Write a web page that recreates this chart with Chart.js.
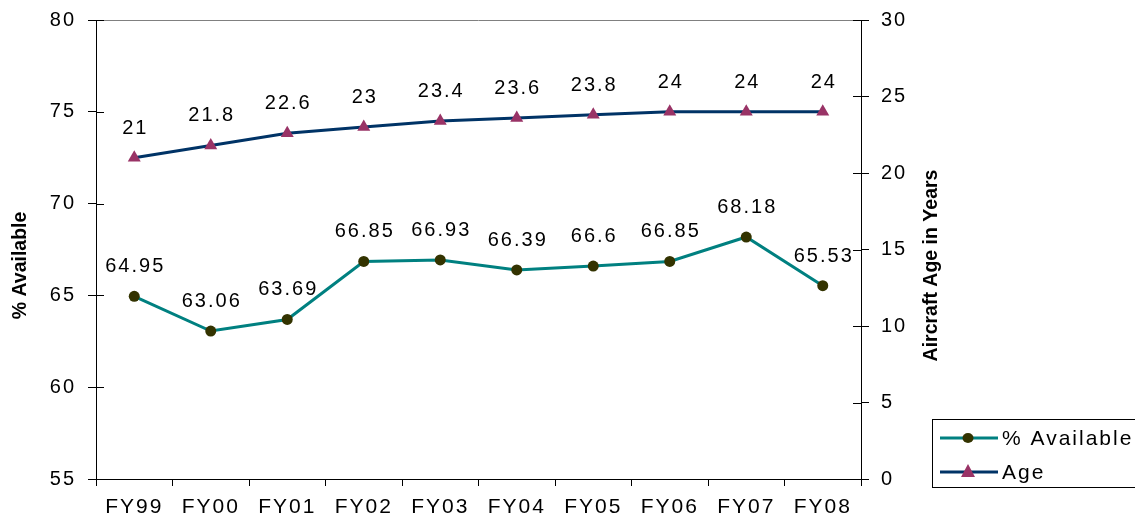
<!DOCTYPE html>
<html>
<head>
<meta charset="utf-8">
<script src="https://cdn.jsdelivr.net/npm/chart.js@4.4.1/dist/chart.umd.min.js"></script>
<style>
  html, body { margin: 0; padding: 0; background: #fff; }
  #wrap { width: 1135px; height: 522px; }
</style>
</head>
<body>
<div id="wrap"><canvas id="myChart" width="1135" height="522"></canvas></div>
<script>
// data
var years = ['FY99', 'FY00', 'FY01', 'FY02', 'FY03', 'FY04', 'FY05', 'FY06', 'FY07', 'FY08'];
var available = [64.95, 63.06, 63.69, 66.85, 66.93, 66.39, 66.6, 66.85, 68.18, 65.53];
var age = [21, 21.8, 22.6, 23, 23.4, 23.6, 23.8, 24, 24, 24];
var leftTitle = '% Available';
var rightTitle = 'Aircraft Age in Years';

var FONT = 'Liberation Sans, Arial, sans-serif';

// spaced out text like the original
const spacing = {
    id: 'spacing',
    beforeUpdate(chart) { chart.ctx.letterSpacing = '2px'; },
    beforeDraw(chart) { chart.ctx.letterSpacing = '2px'; }
};

// inner half of the y ticks + top border + value labels + titles + legend
const extras = {
    id: 'extras',
    afterDatasetsDraw(chart) {
        const ctx = chart.ctx;
        const area = chart.chartArea;
        ctx.save();
        // top border
        ctx.strokeStyle = '#808080';
        ctx.lineWidth = 1;
        ctx.beginPath();
        ctx.moveTo(area.left, area.top + 0.5);
        ctx.lineTo(area.right, area.top + 0.5);
        ctx.stroke();
        // inner tick marks
        ctx.strokeStyle = '#000';
        ['y', 'y1'].forEach(function (id) {
            const s = chart.scales[id];
            const x = id === 'y' ? s.right : s.left;
            const dir = id === 'y' ? 1 : -1;
            s.ticks.forEach(function (t) {
                const py = Math.round(s.getPixelForValue(t.value)) + 0.5;
                ctx.beginPath();
                ctx.moveTo(x, py);
                ctx.lineTo(x + dir * 8, py);
                ctx.stroke();
            });
        });
        // value labels
        ctx.letterSpacing = '2px';
        ctx.fillStyle = '#000';
        ctx.font = '20px ' + FONT;
        ctx.textAlign = 'center';
        ctx.textBaseline = 'alphabetic';
        chart.data.datasets.forEach(function (ds, i) {
            chart.getDatasetMeta(i).data.forEach(function (pt, j) {
                ctx.fillText(String(ds.data[j]), pt.x + 1, pt.y - 24);
            });
        });
        // axis titles
        ctx.letterSpacing = '0px';
        ctx.font = 'bold 19.5px ' + FONT;
        const cy = (area.top + area.bottom) / 2 + 16;
        ctx.save();
        ctx.translate(21, cy);
        ctx.rotate(-Math.PI / 2);
        ctx.textBaseline = 'middle';
        ctx.fillText(leftTitle, 0, 0);
        ctx.restore();
        ctx.save();
        ctx.translate(chart.scales.y1.right + 1, cy);
        ctx.rotate(-Math.PI / 2);
        ctx.textBaseline = 'middle';
        ctx.fillText(rightTitle, 0, 0);
        ctx.restore();
        // legend
        const lx = chart.scales.y1.right + 1;
        const ly = 419;
        ctx.strokeStyle = '#000';
        ctx.lineWidth = 1;
        ctx.strokeRect(lx + 0.5, ly + 0.5, 260, 68);
        ctx.letterSpacing = '2px';
        ctx.font = '21px ' + FONT;
        ctx.textAlign = 'left';
        ctx.textBaseline = 'middle';
        chart.data.datasets.forEach(function (ds, i) {
            const y = ly + 19 + i * 34;
            ctx.strokeStyle = ds.borderColor;
            ctx.lineWidth = 3;
            ctx.beginPath();
            ctx.moveTo(lx + 8, y);
            ctx.lineTo(lx + 66, y);
            ctx.stroke();
            ctx.fillStyle = ds.pointBackgroundColor;
            ctx.beginPath();
            if (ds.pointStyle === 'triangle') {
                ctx.moveTo(lx + 36, y - 8);
                ctx.lineTo(lx + 43, y + 5);
                ctx.lineTo(lx + 29, y + 5);
                ctx.closePath();
            } else {
                ctx.ellipse(lx + 36, y, 5.5, 5, 0, 0, Math.PI * 2);
            }
            ctx.fill();
            ctx.fillStyle = '#000';
            ctx.fillText(ds.label, lx + 70, y + 1);
        });
        ctx.restore();
    }
};

const data = {
    labels: years,
    datasets: [{
        label: '% Available',
        data: available,
        yAxisID: 'y',
        borderColor: '#008080',
        borderWidth: 3,
        pointStyle: 'circle',
        pointRadius: 5.5,
        pointBorderWidth: 0,
        pointBackgroundColor: '#333300',
        pointBorderColor: '#333300',
        tension: 0
    }, {
        label: 'Age',
        data: age,
        yAxisID: 'y1',
        borderColor: '#003366',
        borderWidth: 3,
        pointStyle: 'triangle',
        pointRadius: 7.5,
        pointBorderWidth: 0,
        pointBackgroundColor: '#993366',
        pointBorderColor: '#993366',
        tension: 0
    }]
};

const tickFont = { family: FONT, size: 20 };

// fixed axis sizes, no extra padding from the labels
function fitY(w) {
    return function (s) {
        s.width = w;
        s.paddingTop = 0;
        s.paddingBottom = 0;
    };
}

const config = {
    type: 'line',
    data: data,
    options: {
        responsive: false,
        animation: false,
        events: [],
        layout: { padding: { top: 20, right: 204, left: 0, bottom: 0 } },
        plugins: { legend: { display: false }, tooltip: { enabled: false } },
        scales: {
            x: {
                offset: true,
                grid: { offset: true, drawOnChartArea: false, color: '#000', tickLength: 7 },
                border: { color: '#000', width: 1 },
                ticks: { color: '#000', font: { family: FONT, size: 21 }, padding: 9, maxRotation: 0 },
                afterFit: function (s) { s.height = 43; s.paddingLeft = 0; s.paddingRight = 0; }
            },
            y: {
                position: 'left',
                min: 55, max: 80,
                ticks: { stepSize: 5, color: '#000', font: tickFont, padding: 12 },
                grid: { drawOnChartArea: false, color: '#000', tickLength: 8 },
                border: { color: '#000', width: 1 },
                afterFit: fitY(96)
            },
            y1: {
                position: 'right',
                min: 0, max: 30,
                ticks: { stepSize: 5, color: '#000', font: tickFont, padding: 12 },
                grid: { drawOnChartArea: false, color: '#000', tickLength: 8 },
                border: { color: '#000', width: 1 },
                afterFit: fitY(70)
            }
        }
    },
    plugins: [spacing, extras]
};

const myChart = new Chart(document.getElementById('myChart'), config);
</script>
</body>
</html>
